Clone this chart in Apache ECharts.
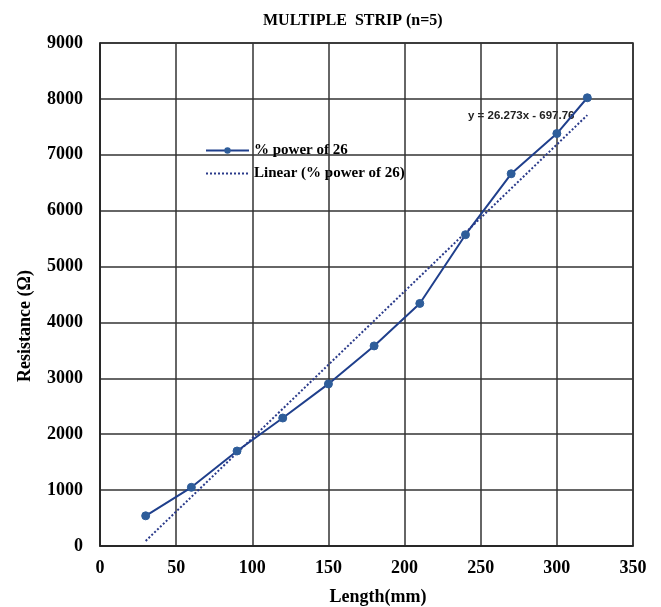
<!DOCTYPE html>
<html>
<head>
<meta charset="utf-8">
<script src="https://cdn.jsdelivr.net/npm/echarts@6/dist/echarts.min.js"></script>
<style>
  html, body { margin: 0; padding: 0; background: #fff; }
  #chart { width: 661px; height: 607px; }
</style>
</head>
<body>
<div id="chart"></div>
<script>
var lengths = [30, 60, 90, 120, 150, 180, 210, 240, 270, 300, 320];
var resistance = [540, 1050, 1700, 2290, 2900, 3580, 4340, 5570, 6660, 7380, 8020];
var slope = 26.273;
var intercept = -697.76;
var seriesName = '% power of 26';
var trendName = 'Linear (% power of 26)';

var serif = '"Liberation Serif", "Times New Roman", serif';

var points = lengths.map(function (x, i) { return [x, resistance[i]]; });
var xFirst = lengths[0], xLast = lengths[lengths.length - 1];
var trend = [[xFirst, slope * xFirst + intercept], [xLast, slope * xLast + intercept]];

var chart = echarts.init(document.getElementById('chart'), null, { renderer: 'canvas' });
var option = {
  backgroundColor: '#fff',
  animation: false,
  title: {
    text: 'MULTIPLE  STRIP (n=5)',
    left: 258,
    top: 8,
    textStyle: { fontFamily: serif, fontWeight: 'bold', fontSize: 16, color: '#000' }
  },
  grid: {
    left: 100, right: 28, top: 43, bottom: 61,
    outerBoundsMode: 'none',
    show: true, borderColor: '#222', borderWidth: 1.5
  },
  legend: {
    orient: 'vertical',
    left: 200, top: 138,
    itemWidth: 43, itemHeight: 8, itemGap: 8,
    textStyle: { fontFamily: serif, fontWeight: 'bold', fontSize: 15, color: '#000' },
    data: [seriesName, { name: trendName, itemStyle: { opacity: 0 } }]
  },
  xAxis: {
    type: 'value', min: 0, max: 350, interval: 50,
    axisLine: { lineStyle: { color: '#222', width: 1.5 } },
    axisTick: { show: false },
    axisLabel: { fontFamily: serif, fontWeight: 'bold', fontSize: 18, color: '#000', margin: 13 },
    splitLine: { lineStyle: { color: '#333', width: 1.5 } }
  },
  yAxis: {
    type: 'value', min: 0, max: 9000, interval: 1000,
    axisLine: { show: true, lineStyle: { color: '#222', width: 1.5 } },
    axisTick: { show: false },
    axisLabel: {
      fontFamily: serif, fontWeight: 'bold', fontSize: 18, color: '#000', margin: 17,
      formatter: function (v) { return String(v); }
    },
    splitLine: { lineStyle: { color: '#333', width: 1.5 } }
  },
  series: [
    {
      name: seriesName,
      type: 'line',
      data: points,
      symbol: 'circle',
      symbolSize: 8,
      lineStyle: { color: '#1f3f8c', width: 2 },
      itemStyle: { color: '#2e5d9a', borderColor: '#2e5d9a' }
    },
    {
      name: trendName,
      type: 'line',
      data: trend,
      symbol: 'none',
      lineStyle: { color: '#2a3a8a', width: 2, type: [2, 2] },
      itemStyle: { color: '#2a3a8a' }
    }
  ],
  graphic: [
    {
      type: 'text',
      left: 468, top: 110,
      style: {
        text: 'y = 26.273x - 697.76',
        font: 'bold 11.5px "Liberation Sans", Arial, sans-serif',
        fill: '#222'
      }
    },
    {
      type: 'text',
      x: 378, y: 597,
      style: {
        text: 'Length(mm)',
        font: 'bold 18px ' + serif,
        fill: '#000', align: 'center', verticalAlign: 'middle'
      }
    },
    {
      type: 'text',
      x: 25, y: 326, rotation: Math.PI / 2,
      style: {
        text: 'Resistance (Ω)',
        font: 'bold 18px ' + serif,
        fill: '#000', align: 'center', verticalAlign: 'middle'
      }
    }
  ]
};
chart.setOption(option);
</script>
</body>
</html>
